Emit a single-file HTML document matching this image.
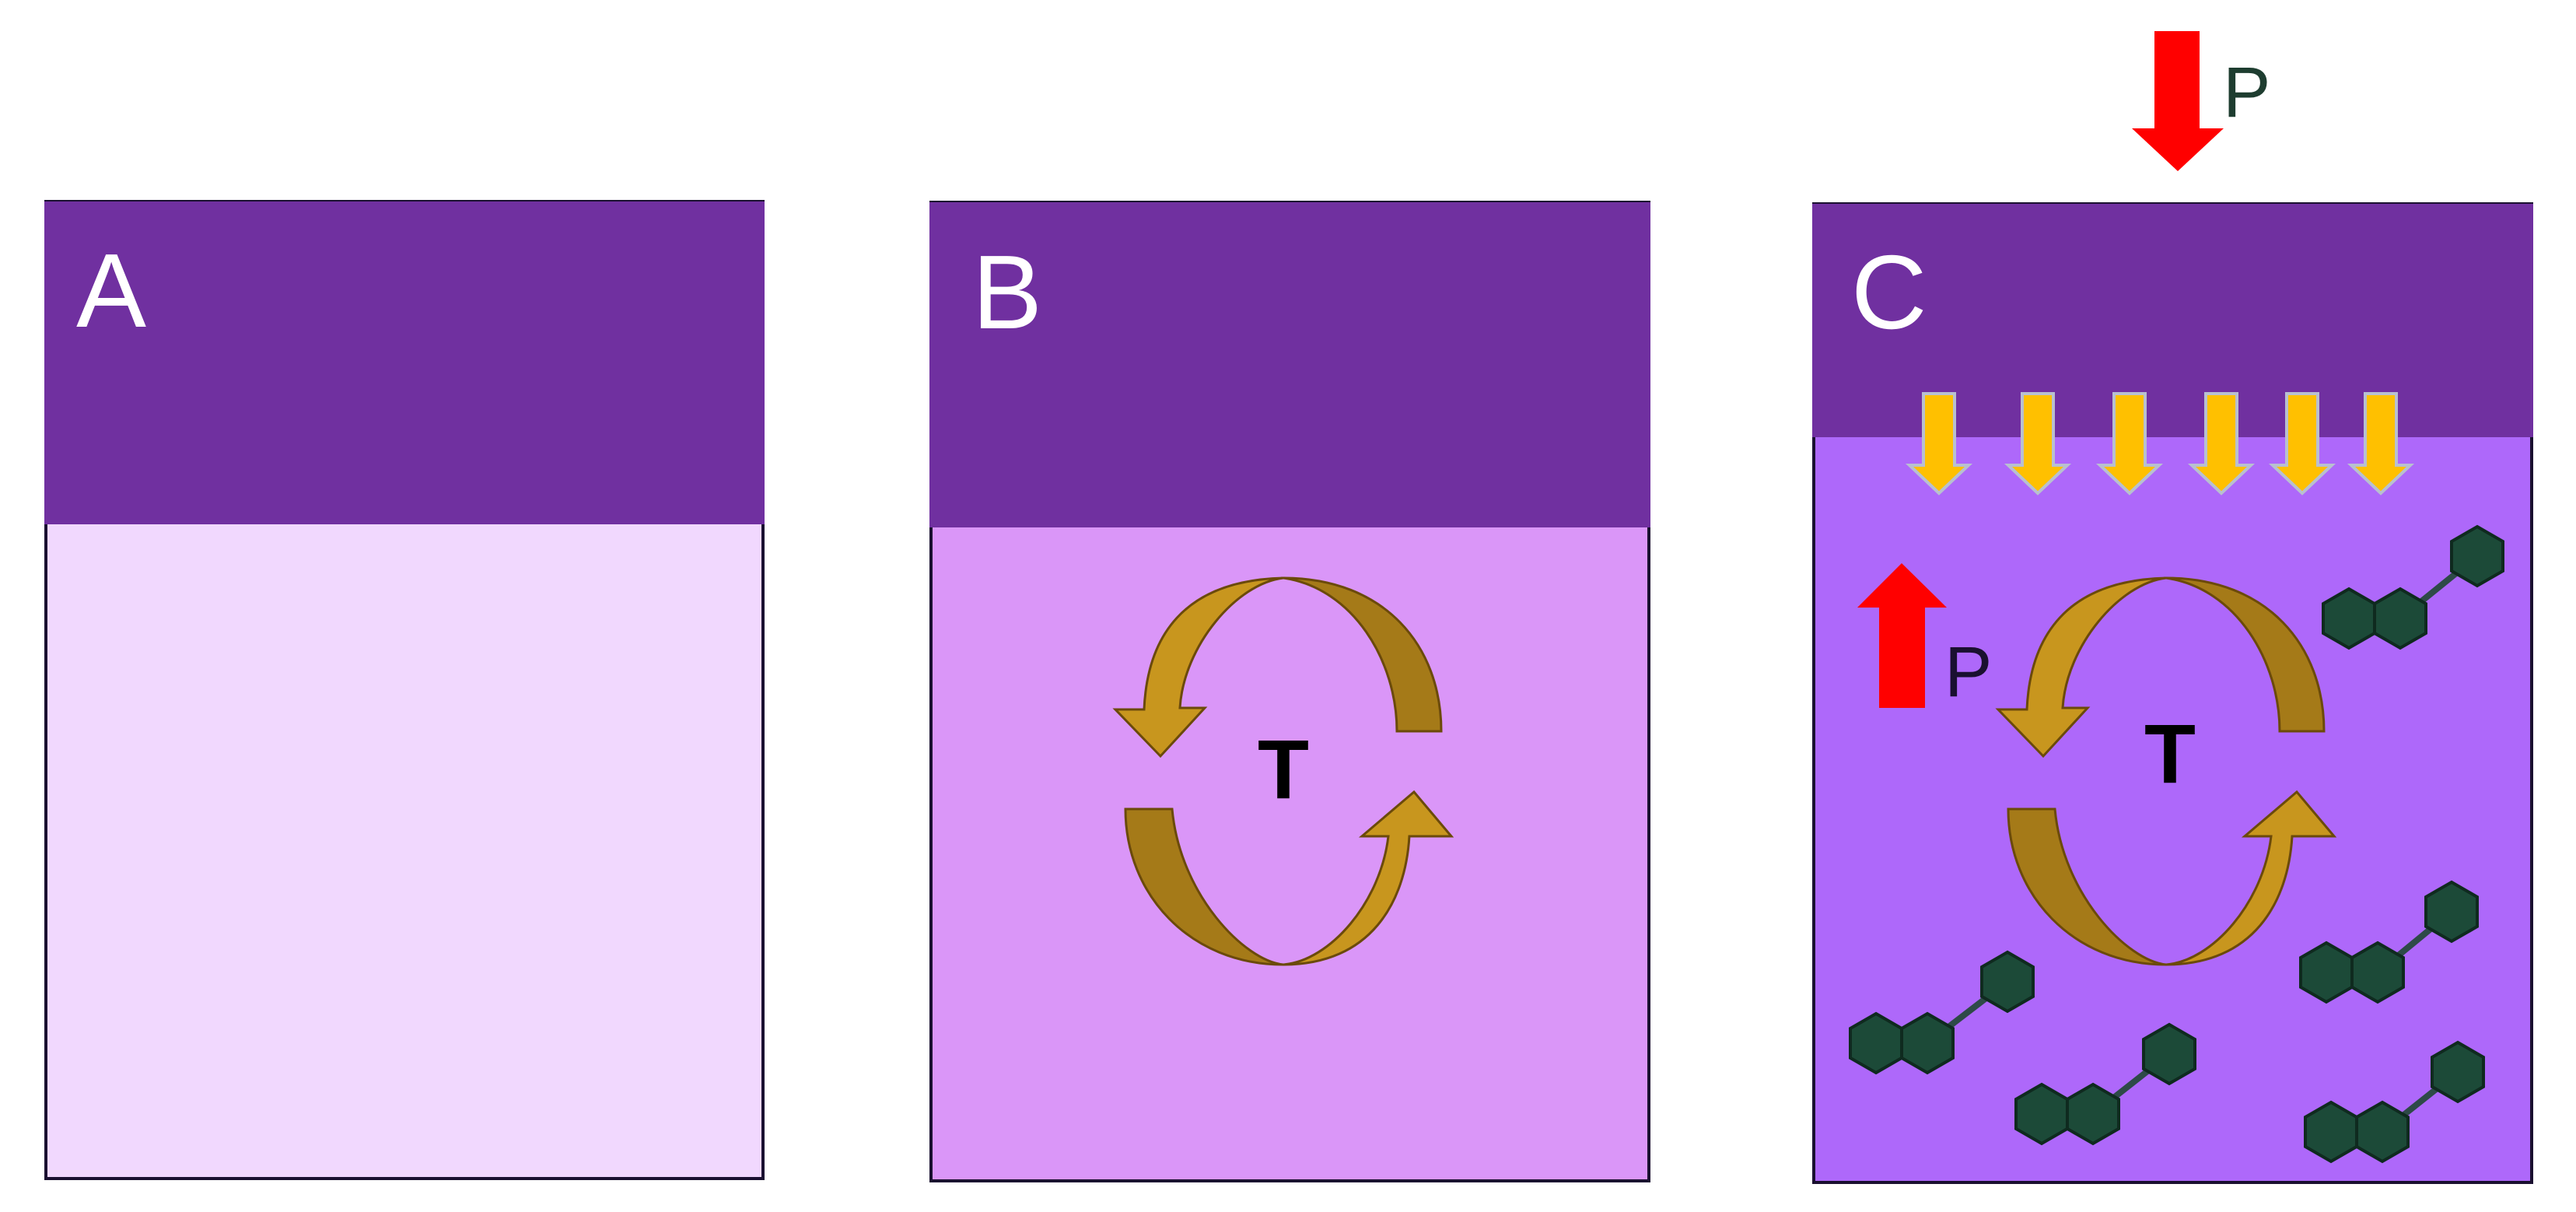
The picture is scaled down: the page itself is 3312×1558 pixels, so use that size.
<!DOCTYPE html>
<html><head><meta charset="utf-8"><style>
html,body{margin:0;padding:0;background:#fff;}
svg{display:block;}
text{font-family:"Liberation Sans",sans-serif;}
</style></head><body>
<svg width="3312" height="1558" viewBox="0 0 3312 1558" xmlns="http://www.w3.org/2000/svg">
<defs>
  <g id="hex"><polygon points="0,-38 33,-19 33,19 0,38 -33,19 -33,-19" fill="#1C4A38" stroke="#0f2a1f" stroke-width="4"/></g>
  <g id="cyc">
    <path d="M2785,743 C2915,743 2988,830 2988,940 L2931,940 C2931,850 2875,756 2785,743 Z" fill="#A57A18" stroke="#6b4a0a" stroke-width="3"/>
    <path d="M2785,743 C2655,746 2610,820 2606,912 L2569,912 L2627,972 L2684,910 L2652,910 C2657,830 2725,750 2785,743 Z" fill="#C8961E" stroke="#6b4a0a" stroke-width="3"/>
    <path d="M2582,1040 L2642,1040 C2652,1150 2735,1235 2785,1240 C2665,1240 2582,1150 2582,1040 Z" fill="#A57A18" stroke="#6b4a0a" stroke-width="3"/>
    <path d="M2785,1240 C2897,1240 2942,1160 2947,1075 L3001,1075 L2953,1018 L2886,1075 L2920,1075 C2910,1160 2845,1235 2785,1240 Z" fill="#C8961E" stroke="#6b4a0a" stroke-width="3"/>
  </g>
  <g id="yarr"><polygon points="-20,0 20,0 20,92 38,92 0,128 -38,92 -20,92" fill="#FFC000" stroke="#b8c0d0" stroke-width="4"/></g>
</defs>

<!-- Panel A -->
<rect x="59" y="259" width="922" height="1256" fill="#F1D8FE" stroke="#1a1030" stroke-width="4"/>
<rect x="57" y="259" width="926" height="415" fill="#7030A0"/>
<text x="98" y="420" font-size="135" fill="#fff">A</text>

<!-- Panel B -->
<rect x="1197" y="260" width="923" height="1258" fill="#DA96F8" stroke="#1a1030" stroke-width="4"/>
<rect x="1195" y="260" width="927" height="418" fill="#7030A0"/>
<text x="1250" y="422" font-size="135" fill="#fff">B</text>
<use href="#cyc" transform="translate(-1135,0)"/>
<text x="1650" y="1026" font-size="108" font-weight="bold" fill="#000" text-anchor="middle">T</text>

<!-- Panel C -->
<rect x="2332" y="262" width="923" height="1258" fill="#AE68FA" stroke="#1a1030" stroke-width="4"/>
<rect x="2330" y="262" width="927" height="300" fill="#7030A0"/>
<text x="2380" y="422" font-size="135" fill="#fff">C</text>

<use href="#yarr" x="2493" y="506"/>
<use href="#yarr" x="2620" y="506"/>
<use href="#yarr" x="2738" y="506"/>
<use href="#yarr" x="2856" y="506"/>
<use href="#yarr" x="2960" y="506"/>
<use href="#yarr" x="3061" y="506"/>

<!-- top red arrow -->
<polygon points="2770,40 2828,40 2828,165 2859,165 2800,220 2741,165 2770,165" fill="#FF0000"/>
<text x="2858" y="150" font-size="92" fill="#1E3D30">P</text>
<!-- up red arrow -->
<polygon points="2445,724 2503,781 2475,781 2475,910 2416,910 2416,781 2388,781" fill="#FF0000"/>
<text x="2500" y="895" font-size="92" fill="#1a1030">P</text>

<use href="#cyc"/>
<text x="2790" y="1006" font-size="108" font-weight="bold" fill="#000" text-anchor="middle">T</text>

<!-- molecules -->
<g stroke="#2e4a48" stroke-width="8">
  <line x1="3086" y1="795" x2="3185" y2="715"/>
  <line x1="3057" y1="1250" x2="3152" y2="1172"/>
  <line x1="2478" y1="1341" x2="2581" y2="1262"/>
  <line x1="2691" y1="1432" x2="2789" y2="1355"/>
  <line x1="3063" y1="1455" x2="3160" y2="1378"/>
</g>
<use href="#hex" x="3020" y="795"/><use href="#hex" x="3086" y="795"/><use href="#hex" x="3185" y="715"/>
<use href="#hex" x="2991" y="1250"/><use href="#hex" x="3057" y="1250"/><use href="#hex" x="3152" y="1172"/>
<use href="#hex" x="2412" y="1341"/><use href="#hex" x="2478" y="1341"/><use href="#hex" x="2581" y="1262"/>
<use href="#hex" x="2625" y="1432"/><use href="#hex" x="2691" y="1432"/><use href="#hex" x="2789" y="1355"/>
<use href="#hex" x="2997" y="1455"/><use href="#hex" x="3063" y="1455"/><use href="#hex" x="3160" y="1378"/>
</svg>
</body></html>
